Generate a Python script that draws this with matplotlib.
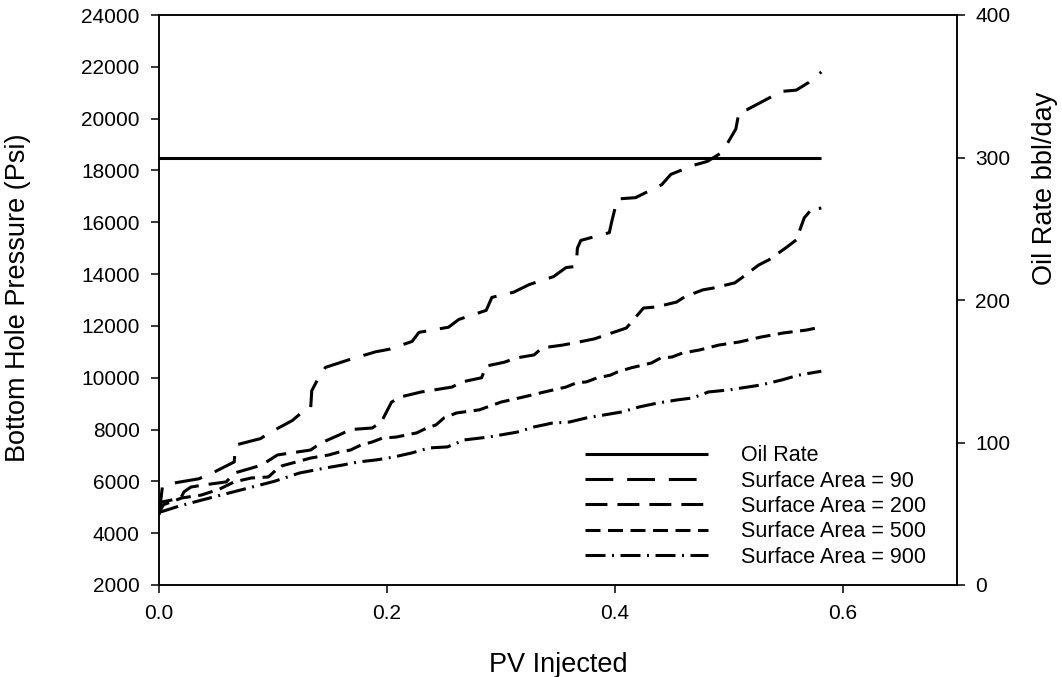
import matplotlib
matplotlib.use("Agg")
import matplotlib.pyplot as plt

plt.rcParams['font.family'] = ['Liberation Sans', 'DejaVu Sans']
plt.rcParams['lines.scale_dashes'] = False

# ---------------- data ----------------
oil_pv = [0.0, 0.581]
oil_rate = [300, 300]

sa90_pv = [0.000, 0.003, 0.015, 0.035, 0.048, 0.066, 0.067, 0.089, 0.098, 0.117,
           0.125, 0.133, 0.134, 0.140, 0.146, 0.167, 0.190, 0.202, 0.222, 0.228,
           0.254, 0.263, 0.287, 0.292, 0.311, 0.325, 0.346, 0.357, 0.366, 0.367,
           0.370, 0.395, 0.397, 0.402, 0.418, 0.441, 0.449, 0.469, 0.481, 0.494,
           0.506, 0.509, 0.516, 0.546, 0.559, 0.570, 0.581]
sa90_bhp = [4700, 5800, 5950, 6100, 6350, 6750, 7400, 7650, 7900, 8350,
            8650, 8800, 9500, 10000, 10400, 10700, 11000, 11100, 11400, 11750,
            11950, 12250, 12600, 13100, 13300, 13600, 13900, 14250, 14300, 15000,
            15300, 15600, 16000, 16900, 16950, 17450, 17850, 18200, 18350, 18700,
            19600, 20300, 20350, 21050, 21100, 21400, 21800]

sa200_pv = [0.000, 0.002, 0.019, 0.022, 0.028, 0.039, 0.059, 0.066, 0.081, 0.090,
            0.104, 0.133, 0.142, 0.158, 0.168, 0.187, 0.195, 0.204, 0.212, 0.230,
            0.257, 0.266, 0.283, 0.287, 0.303, 0.313, 0.329, 0.336, 0.354, 0.364,
            0.382, 0.392, 0.410, 0.425, 0.436, 0.454, 0.461, 0.477, 0.486, 0.505,
            0.511, 0.526, 0.535, 0.551, 0.559, 0.566, 0.572, 0.581]
sa200_bhp = [4800, 5200, 5350, 5600, 5780, 5860, 5980, 6320, 6510, 6630,
             7020, 7210, 7480, 7790, 8000, 8060, 8290, 9060, 9260, 9450,
             9640, 9840, 10000, 10450, 10600, 10760, 10880, 11150, 11260, 11340,
             11500, 11650, 11920, 12690, 12730, 12920, 13120, 13390, 13460, 13660,
             13850, 14350, 14550, 15050, 15320, 16170, 16480, 16550]

sa500_pv = [0.000, 0.004, 0.020, 0.037, 0.053, 0.066, 0.081, 0.096, 0.103, 0.108,
            0.133, 0.149, 0.158, 0.168, 0.177, 0.187, 0.196, 0.208, 0.217, 0.226,
            0.235, 0.243, 0.250, 0.261, 0.281, 0.288, 0.300, 0.320, 0.338, 0.357,
            0.366, 0.375, 0.384, 0.396, 0.402, 0.414, 0.432, 0.440, 0.450, 0.459,
            0.474, 0.491, 0.509, 0.528, 0.548, 0.568, 0.581]
sa500_bhp = [4800, 5100, 5360, 5470, 5700, 5980, 6130, 6170, 6450, 6600,
             6900, 7020, 7130, 7210, 7400, 7520, 7670, 7710, 7790, 7870,
             8060, 8180, 8450, 8640, 8760, 8870, 9060, 9260, 9450, 9640,
             9800, 9840, 9990, 10100, 10220, 10380, 10570, 10760, 10800, 10950,
             11070, 11260, 11380, 11570, 11730, 11840, 11960]

sa900_pv = [0.000, 0.018, 0.035, 0.057, 0.079, 0.101, 0.123, 0.145, 0.161, 0.175,
            0.191, 0.206, 0.222, 0.237, 0.253, 0.268, 0.289, 0.314, 0.329, 0.345,
            0.360, 0.375, 0.390, 0.406, 0.421, 0.437, 0.454, 0.468, 0.482, 0.500,
            0.528, 0.546, 0.561, 0.581]
sa900_bhp = [4800, 5050, 5250, 5500, 5750, 6000, 6320, 6510, 6630, 6750,
             6830, 6940, 7100, 7290, 7330, 7600, 7710, 7900, 8100, 8250,
             8290, 8450, 8560, 8680, 8870, 9020, 9140, 9220, 9450, 9530,
             9720, 9910, 10100, 10250]

x_ticks = [0.0, 0.2, 0.4, 0.6]
x_ticklabels = ["0.0", "0.2", "0.4", "0.6"]
left_ticks = list(range(2000, 24001, 2000))
right_ticks = [0, 100, 200, 300, 400]

# ---------------- figure ----------------
W, H = 1062, 677
fig = plt.figure(figsize=(W / 100, H / 100), dpi=100)
x0, x1, ytop, ybot = 159, 957, 15, 585
ax = fig.add_axes([x0 / W, 1 - ybot / H, (x1 - x0) / W, (ybot - ytop) / H])
ax2 = ax.twinx()

lw = 2.2
l90, = ax.plot(sa90_pv, sa90_bhp, color='black', lw=lw, dashes=(20, 10),
               dash_capstyle='butt', label='Surface Area = 90')
l200, = ax.plot(sa200_pv, sa200_bhp, color='black', lw=lw, dashes=(15.8, 7.2),
                dash_capstyle='butt', label='Surface Area = 200')
l500, = ax.plot(sa500_pv, sa500_bhp, color='black', lw=lw, dashes=(10.8, 5.4),
                dash_capstyle='butt', label='Surface Area = 500')
l900, = ax.plot(sa900_pv, sa900_bhp, color='black', lw=lw, dashes=(14.4, 4.7, 1.4, 4.7),
                dash_capstyle='butt', label='Surface Area = 900')
loil, = ax2.plot(oil_pv, oil_rate, color='black', lw=lw, solid_capstyle='butt',
                 label='Oil Rate')

ax.set_xlim(0, 0.7)
ax.set_ylim(2000, 24000)
ax2.set_ylim(0, 400)
ax.set_xticks(x_ticks)
ax.set_xticklabels(x_ticklabels)
ax.set_yticks(left_ticks)
ax2.set_yticks(right_ticks)

for a in (ax, ax2):
    for s in a.spines.values():
        s.set_linewidth(1.1)
ax.tick_params(axis='both', direction='out', length=6, width=1.1, labelsize=15, pad=8)
ax2.tick_params(axis='y', direction='out', length=6, width=1.1, labelsize=15, pad=7)

ax.set_xlabel('PV Injected', fontsize=19.5)
ax.set_ylabel('Bottom Hole Pressure (Psi)', fontsize=19.5)
ax2.set_ylabel('Oil Rate bbl/day', fontsize=19.5)

pw = x1 - x0
ph = ybot - ytop
ax.xaxis.label.set_va('center')
ax.xaxis.set_label_coords((558 - x0) / pw, (ybot - 665) / ph)
ax.yaxis.label.set_va('center')
ax.yaxis.set_label_coords((18 - x0) / pw, (ybot - 298) / ph)
ax2.yaxis.label.set_va('center')
ax2.yaxis.set_label_coords((1045 - x0) / pw, (ybot - 188) / ph)

handles = [loil, l90, l200, l500, l900]
leg = ax2.legend(handles=handles, labels=[h.get_label() for h in handles],
                 loc='upper left', bbox_to_anchor=(0.534, 0.245), frameon=False,
                 fontsize=15.5, handlelength=5.72, handletextpad=1.54,
                 labelspacing=0.2, borderpad=0, borderaxespad=0)

fig.savefig('out.png', dpi=100)
